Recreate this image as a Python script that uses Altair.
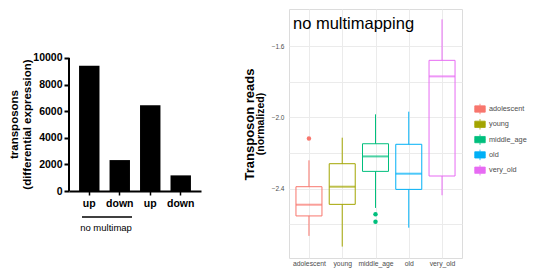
import altair as alt
import pandas as pd

# ---------------- data: left panel (bar chart) ----------------
bar_keys = ["up (no multimap)", "down (no multimap)", "up", "down"]
bar_values = [9425, 2325, 6450, 1175]
bar_ticks = [0, 2000, 4000, 6000, 8000, 10000]

# ---------------- data: right panel (boxplots) ----------------
groups = ["adolescent", "young", "middle_age", "old", "very_old"]
group_colors = ["#F8766D", "#A3A500", "#00BF7D", "#00B0F6", "#E76BF3"]
whisker_low = [-2.665, -2.725, -2.508, -2.619, -2.437]
q1 = [-2.553, -2.488, -2.303, -2.404, -2.329]
median = [-2.490, -2.389, -2.219, -2.316, -1.770]
q3 = [-2.389, -2.260, -2.148, -2.151, -1.680]
whisker_high = [-2.241, -2.114, -1.983, -1.968, -1.450]
outlier_group = ["adolescent", "middle_age", "middle_age"]
outlier_value = [-2.118, -2.544, -2.585]
y_ticks = [-2.6, -2.4, -2.2, -2.0, -1.8, -1.6]

FONT = "Liberation Sans"

# ---------------- left chart ----------------
bar_df = pd.DataFrame({"key": bar_keys, "value": bar_values})
LW, LH = 132, 182

xL = alt.X("key:N", sort=bar_keys,
           scale=alt.Scale(paddingInner=0.33, paddingOuter=0.33),
           axis=alt.Axis(title=None, labelExpr="split(datum.label, ' ')[0]", labelAngle=0,
                         labelFontWeight="bold", labelFontSize=10.5, labelColor="black",
                         domainColor="black", domainWidth=2, tickColor="black", tickWidth=1.5,
                         tickSize=4, labelPadding=3, labelOverlap=False))
yL_axis = alt.Axis(values=bar_ticks, format="d", grid=False, domain=False,
                   labelFontWeight="bold", labelFontSize=10.5, labelColor="black",
                   labelOverlap=False, labelSeparation=0, labelBound=False,
                   tickColor="black", tickWidth=2, tickSize=5, labelPadding=2,
                   title=["transposons", "(differential expression)"],
                   titleFontSize=11.5, titleFontWeight="bold", titleColor="black",
                   titleX=-54.5, titleY=115, titleBaseline="middle", titleLineHeight=13)
yL_scale = alt.Scale(domain=[0, 13684], nice=False)

bars = alt.Chart(bar_df).mark_bar(color="black").encode(
    x=xL, y=alt.Y("value:Q", scale=yL_scale, axis=yL_axis))
yaxis_line = alt.Chart(pd.DataFrame({"a": [0]})).mark_rule(color="black", strokeWidth=2).encode(
    x=alt.value(0), y=alt.Y(datum=0, scale=yL_scale, axis=yL_axis), y2=alt.datum(10000))
group_line = alt.Chart(pd.DataFrame({"a": [0]})).mark_rule(color="black", strokeWidth=1.5).encode(
    x=alt.value(13), x2=alt.value(63), y=alt.value(208))
group_text = alt.Chart(pd.DataFrame({"t": ["no multimap"]})).mark_text(
    fontSize=9.5, color="black", align="center", baseline="middle").encode(
    text="t:N", x=alt.value(37), y=alt.value(219))

left = alt.layer(bars, yaxis_line, group_line, group_text).properties(width=LW, height=LH)

# ---------------- right chart ----------------
RW, RH = 173, 249
box_df = pd.DataFrame({"group": groups, "lo": whisker_low, "q1": q1, "med": median,
                       "q3": q3, "hi": whisker_high})
out_df = pd.DataFrame({"group": outlier_group, "v": outlier_value})

cscale = alt.Scale(domain=groups, range=group_colors)
xR = alt.X("group:N", sort=groups, scale=alt.Scale(type="point", padding=0.6),
           axis=alt.Axis(title=None, labelAngle=0, labelFontSize=6.8, labelColor="#4d4d4d",
                         ticks=False, domain=False, grid=True, gridColor="#EBEBEB",
                         labelPadding=2))
yR_scale = alt.Scale(domain=[-2.789, -1.392], nice=False, zero=False)
yR_axis = alt.Axis(values=y_ticks,
                   labelExpr="round(datum.value*10) % 4 == 0 ? format(datum.value, '.1f') : ''",
                   grid=True, gridColor="#EBEBEB", domain=False, ticks=False,
                   labelFontSize=6.5, labelColor="#4d4d4d", labelPadding=5,
                   title="Transposon reads", titleFontSize=13, titleFontWeight="bold",
                   titleColor="black", titleX=-40, titleY=115, titleBaseline="middle")

legend = alt.Legend(title=None, orient="none", legendX=405, legendY=94,
                    symbolType="M-1,-0.6H1V0.6H-1Z M-1,0H1 M0,-0.6V-1 M0,0.6V1",
                    symbolSize=110, symbolStrokeWidth=0.8, symbolFillColor="white",
                    labelFontSize=7.3, labelColor="#4d4d4d", labelOffset=3,
                    rowPadding=1.3, padding=0)
color_enc = alt.Color("group:N", scale=cscale, legend=legend)

whisk_lo = alt.Chart(box_df).mark_rule(strokeWidth=1).encode(
    x=xR, y=alt.Y("lo:Q", scale=yR_scale, axis=yR_axis), y2="q1:Q", color=color_enc)
whisk_hi = alt.Chart(box_df).mark_rule(strokeWidth=1).encode(
    x=xR, y="q3:Q", y2="hi:Q", color=color_enc)
boxes = alt.Chart(box_df).mark_bar(size=26, filled=False, strokeWidth=1).encode(
    x=xR, y="q1:Q", y2="q3:Q", color=color_enc)
medians = alt.Chart(box_df).mark_tick(size=26, thickness=2).encode(
    x=xR, y="med:Q", fill=alt.Fill("group:N", scale=cscale, legend=None))
outliers = alt.Chart(out_df).mark_circle(size=20, opacity=1).encode(
    x=xR, y="v:Q", fill=alt.Fill("group:N", scale=cscale, legend=None))
title_text = alt.Chart(pd.DataFrame({"t": ["no multimapping"]})).mark_text(
    fontSize=16.5, color="black", align="left", baseline="middle").encode(
    text="t:N", x=alt.value(4), y=alt.value(15))
norm_text = alt.Chart(pd.DataFrame({"t": ["(normalized)"]})).mark_text(
    fontSize=10.5, fontWeight="bold", color="black", align="center", baseline="middle",
    angle=270).encode(text="t:N", x=alt.value(-28), y=alt.value(115))

right = alt.layer(whisk_lo, whisk_hi, boxes, medians, outliers, title_text, norm_text).properties(
    width=RW, height=RH, view=alt.ViewBackground(stroke="#DCDCDC", strokeWidth=1))

chart = alt.hconcat(left, right, spacing=41).properties(
    padding={"left": 0, "top": 0, "right": 0, "bottom": 0}
).configure(font=FONT).configure_view(stroke=None).configure_axisY(labelOverlap=False)

chart.save("out.html", embed_options={"renderer": "svg", "actions": False})
